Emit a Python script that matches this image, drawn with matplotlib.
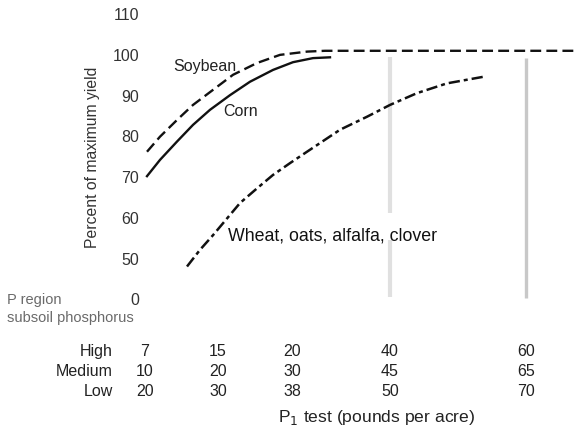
import matplotlib
matplotlib.use("Agg")
import matplotlib.pyplot as plt

plt.rcParams['font.family'] = ['Liberation Sans', 'DejaVu Sans']

# ---- data (x in chart position units, y in percent of maximum yield) ----
soy_x = [147, 160, 177, 193, 213, 233, 257, 280, 307, 325, 577]
soy_y = [76.6, 80.3, 84.4, 88.1, 91.8, 95.5, 98.4, 100.4, 101.2, 101.4, 101.4]

corn_x = [147, 160, 177, 193, 210, 230, 250, 273, 293, 313, 330]
corn_y = [70.6, 74.6, 79.1, 83.2, 86.9, 90.5, 93.8, 96.7, 98.6, 99.6, 99.8]

wheat_x = [187, 200, 213, 227, 240, 257, 273, 290, 307, 340, 367, 390, 417, 447, 483]
wheat_y = [48.4, 52.5, 56.1, 60.2, 64.0, 67.6, 70.9, 73.8, 76.6, 82.0, 85.2, 88.1, 91.0, 93.4, 95.0]

ytick_pos = [110, 100, 90, 80, 70, 60, 50, 40]
ytick_lab = ['110', '100', '90', '80', '70', '60', '50', '0']

row_names = ['High', 'Medium', 'Low']
col_x = [145, 218, 292, 390, 526]
p_high = [7, 15, 20, 40, 60]
p_medium = [10, 20, 30, 45, 65]
p_low = [20, 30, 38, 50, 70]
row_y = [27.4, 22.5, 17.8]

# ---- figure ----
fig = plt.figure(figsize=(5.77, 4.36), dpi=100)
ax = fig.add_axes([0, 0, 1, 1])
ax.set_xlim(0, 577)
ax.set_ylim(6.76, 113.88)
ax.axis('off')

# faint vertical scan streaks
ax.plot([390, 390], [99.9, 61.5], color='#e0e0e0', lw=3.0, solid_capstyle='butt', zorder=1)
ax.plot([390, 390], [54.9, 40.9], color='#e0e0e0', lw=3.0, solid_capstyle='butt', zorder=1)
ax.plot([526, 526], [99.6, 40.7], color='#c8c8c8', lw=2.4, solid_capstyle='butt', zorder=1)

# curves
ax.plot(soy_x, soy_y, color='#111111', lw=1.7, dashes=(4.6, 2.2), zorder=3)
ax.plot(corn_x, corn_y, color='#111111', lw=1.7, zorder=3)
ax.plot(wheat_x, wheat_y, color='#111111', lw=1.8, dashes=(4.5, 1.6, 1.6, 1.6), zorder=3)

# curve labels
ax.text(204.5, 97.6, 'Soybean', fontsize=11.5, ha='center', va='center', color='#222222')
ax.text(240.5, 86.5, 'Corn', fontsize=11.5, ha='center', va='center', color='#222222')
ax.text(228, 55.9, 'Wheat, oats, alfalfa, clover', fontsize=12.8, ha='left', va='center', color='#111111')

# y tick labels
for p, lab in zip(ytick_pos, ytick_lab):
    ax.text(139, p, lab, fontsize=11.5, ha='right', va='center', color='#333333')

ax.text(92, 75.3, 'Percent of maximum yield', fontsize=11.3, rotation=90,
        ha='center', va='center', color='#333333')

ax.text(7, 40.2, 'P region', fontsize=10.5, ha='left', va='center', color='#6a6a6a')
ax.text(7, 35.75, 'subsoil phosphorus', fontsize=10.5, ha='left', va='center', color='#6a6a6a')

# table
for name, ry, vals in zip(row_names, row_y, [p_high, p_medium, p_low]):
    ax.text(113, ry, name, fontsize=11.5, ha='right', va='center', color='#222222')
    for cx, v in zip(col_x, vals):
        ax.text(cx, ry, str(v), fontsize=11.5, ha='center', va='center', color='#222222')

ax.text(377, 11.4, r'P$_1$ test (pounds per acre)', fontsize=12.6, ha='center', va='center',
        color='#222222')

fig.savefig('out.png', dpi=100)
